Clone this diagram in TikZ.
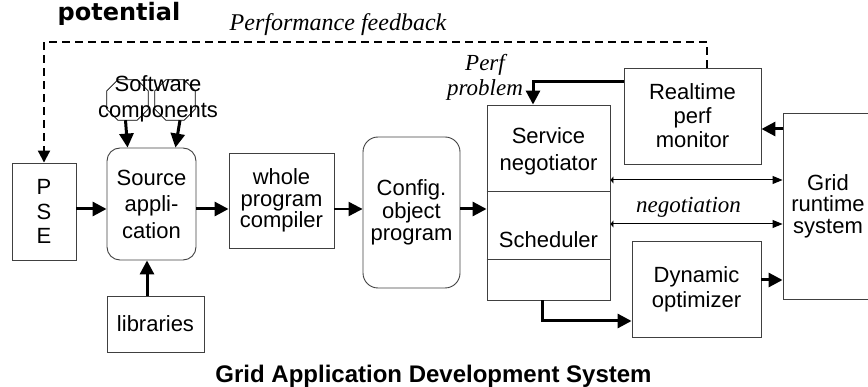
\documentclass[tikz,border=0pt]{standalone}
\usepackage{fontspec}
\setmainfont{Liberation Sans}
\newfontfamily\seriffont{Liberation Serif}
\newfontfamily\potfont{DejaVu Sans}
\usetikzlibrary{arrows.meta}
\begin{document}
\begin{tikzpicture}[x=1pt,y=-1pt,
  box/.style={draw=black!75, line width=0.9pt, inner sep=0pt, align=center},
  rbox/.style={box, rounded corners=13pt},
  fs/.style={font=\fontsize{22}{#1}\selectfont},
  thk/.style={line width=3pt, -{Triangle[length=14pt,width=14pt]}},
  med/.style={line width=2.2pt, -{Triangle[length=14pt,width=14pt]}},
  dbl/.style={line width=1pt, {Triangle[length=3pt,width=7pt]}-{Triangle[length=10pt,width=8pt]}},
  fb/.style={line width=2pt, dash pattern=on 8pt off 5pt, -{Triangle[length=12pt,width=12pt]}},
  oct/.style={draw=black, line width=0.8pt},
  itl/.style={font=\fontsize{23}{25}\seriffont\itshape, inner sep=0pt, align=center}
]
\useasboundingbox (0,0) rectangle (868,387);

% boxes
\node[box, fs=24.5, minimum width=64pt, minimum height=97pt] (pse) at (44,211.5) {P\\S\\E};
\node[rbox, fs=26.5, minimum width=89pt, minimum height=112pt] (src) at (151.5,204) {Source\\appli-\\cation};
\node[box, fs=21.5, minimum width=105pt, minimum height=95pt] (comp) at (281.5,200.5) {whole\\program\\compiler};
\node[rbox, rounded corners=15pt, fs=22.5, minimum width=97pt, minimum height=151pt] (cfg) at (411.5,212.5) {Config.\\object\\program};
\node[box, minimum width=123pt, minimum height=195pt] (col) at (548.5,202.5) {};
\node[box, fs=24, minimum width=137pt, minimum height=96pt] (rt) at (692.5,116) {Realtime\\perf\\monitor};
\node[box, fs=21.5, minimum width=90pt, minimum height=186pt] (grid) at (828,206) {Grid\\runtime\\system};
\node[box, fs=25, minimum width=129pt, minimum height=96pt] (dyn) at (696.5,289) {Dynamic\\optimizer};
\node[box, fs=24, minimum width=97pt, minimum height=56pt] (lib) at (155.5,324) {libraries};

% column dividers and texts
\draw[draw=black!75, line width=0.9pt] (col.west |- 0,191) -- (col.east |- 0,191);
\draw[draw=black!75, line width=0.9pt] (col.west |- 0,259) -- (col.east |- 0,259);
\node[fs=27, align=center, inner sep=0pt] (sn) at (548.5,151.5) {Service\\negotiator};
\node[fs=24, inner sep=0pt, anchor=base] (sch) at (548.5,247.7) {Scheduler};

% software component octagons
\node[minimum width=41pt, minimum height=40pt, inner sep=0pt] (o1) at (127.5,100) {};
\node[minimum width=40pt, minimum height=40pt, inner sep=0pt] (o2) at (175,100) {};
\foreach \o in {o1,o2}
  \draw[oct] ([xshift=11pt]\o.north west) -- ([xshift=-11pt]\o.north east)
    -- ([yshift=-11pt]\o.north east) -- ([yshift=11pt]\o.south east)
    -- ([xshift=-11pt]\o.south east) -- ([xshift=11pt]\o.south west)
    -- ([yshift=11pt]\o.south west) -- ([yshift=-11pt]\o.north west) -- cycle;
\node[fs=26, align=center, inner sep=0pt] (sw) at (158,99) {Software\\components};

% texts
\node[font=\fontsize{24}{26}\potfont\bfseries, inner sep=0pt, anchor=base] (pot) at (119,21) {potential};
\node[itl, font=\fontsize{24}{26}\seriffont\itshape, anchor=base] (pfb) at (338,31) {Performance feedback};
\node[itl] (pp) at (485,77) {Perf\\problem};
\node[itl, anchor=base] (neg) at (688.5,213) {negotiation};
\node[font=\fontsize{24}{26}\selectfont\bfseries, inner sep=0pt, anchor=base] (title) at (433.5,383) {Grid Application Development System};

% connectors
\coordinate (r) at (0,209);
\draw[thk] (pse.east |- r) -- (src.west |- r);
\draw[thk] (src.east |- r) -- (comp.west |- r);
\draw[med] (comp.east |- r) -- (cfg.west |- r);
\draw[thk] (cfg.east |- r) -- (col.west |- r);
\draw[thk] ([xshift=-2pt]o1.south) -- ([xshift=21pt]src.north west);
\draw[thk] ([xshift=5pt]o2.south) -- ([xshift=-21pt]src.north east);
\draw[thk] ([xshift=-8.5pt]lib.north) -- ([xshift=-8.5pt]lib.north |- src.south);
\draw[thk] ([yshift=34pt]rt.west) -| ([xshift=-15.5pt]col.north);
\draw[thk] (grid.west |- 0,129) -- (rt.east |- 0,129);
\draw[dbl] (col.east |- 0,180) -- (grid.west |- 0,180);
\draw[dbl] (col.east |- 0,224) -- (grid.west |- 0,224);
\draw[thk] (dyn.east |- 0,280) -- (grid.west |- 0,280);
\draw[thk] ([xshift=-6.5pt]col.south) |- (dyn.west |- 0,321);
\coordinate (fbc) at (44,42);
\draw[fb] ([xshift=14.5pt]rt.north) |- (fbc) -- (pse.north);
\end{tikzpicture}
\end{document}
